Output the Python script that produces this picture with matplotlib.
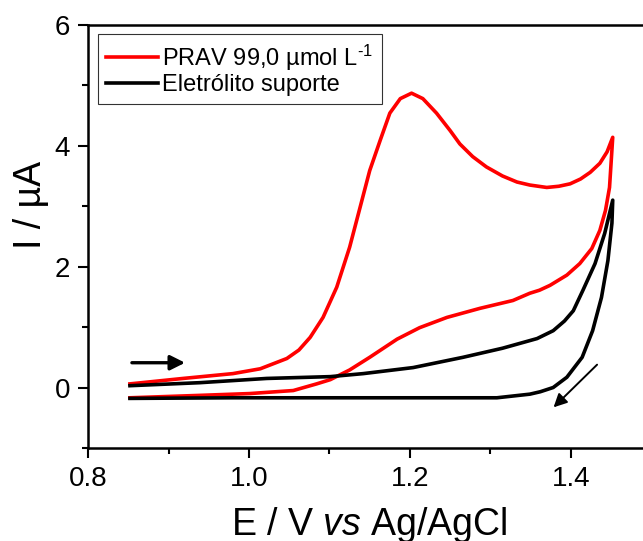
import matplotlib
matplotlib.use("Agg")
import matplotlib.pyplot as plt
from matplotlib.ticker import MultipleLocator

plt.rcParams['font.family'] = ['Liberation Sans', 'DejaVu Sans']
plt.rcParams['mathtext.fontset'] = 'custom'
plt.rcParams['mathtext.rm'] = 'Liberation Sans'
plt.rcParams['mathtext.it'] = 'Liberation Sans:italic'

# voltammogram of PRAV: anodic sweep then return sweep
prav_fwd_E = [0.852, 0.918, 0.980, 1.014, 1.047, 1.062, 1.076, 1.092, 1.109, 1.125,
              1.138, 1.150, 1.163, 1.175, 1.188, 1.202, 1.216, 1.233, 1.250, 1.262,
              1.278, 1.295, 1.315, 1.333, 1.349, 1.370, 1.385, 1.399, 1.412, 1.424,
              1.436, 1.445, 1.452]
prav_fwd_I = [0.06, 0.15, 0.23, 0.31, 0.48, 0.62, 0.83, 1.16, 1.66, 2.32,
              2.98, 3.59, 4.09, 4.54, 4.78, 4.87, 4.78, 4.54, 4.25, 4.03,
              3.82, 3.65, 3.50, 3.40, 3.35, 3.31, 3.33, 3.37, 3.45, 3.56,
              3.71, 3.90, 4.14]
prav_rev_E = [1.452, 1.448, 1.443, 1.436, 1.426, 1.411, 1.395, 1.374, 1.361, 1.349,
              1.328, 1.287, 1.246, 1.212, 1.184, 1.150, 1.125, 1.113, 1.101, 1.084,
              1.055, 1.001, 0.939, 0.852]
prav_rev_I = [4.14, 3.31, 2.93, 2.60, 2.30, 2.05, 1.86, 1.69, 1.61, 1.56,
              1.44, 1.31, 1.16, 0.99, 0.80, 0.50, 0.29, 0.21, 0.13, 0.06,
              -0.05, -0.10, -0.13, -0.17]

# supporting electrolyte blank
blank_fwd_E = [0.852, 0.939, 1.022, 1.101, 1.142, 1.204, 1.266, 1.315, 1.358, 1.378,
               1.392, 1.403, 1.415, 1.430, 1.442, 1.452]
blank_fwd_I = [0.03, 0.08, 0.15, 0.18, 0.23, 0.33, 0.50, 0.65, 0.81, 0.94,
               1.10, 1.27, 1.61, 2.05, 2.55, 3.10]
blank_rev_E = [1.452, 1.451, 1.446, 1.438, 1.427, 1.414, 1.395, 1.378, 1.362, 1.349,
               1.308, 1.225, 1.101, 0.980, 0.852]
blank_rev_I = [3.10, 2.72, 2.10, 1.49, 0.94, 0.50, 0.17, 0.00, -0.07, -0.11,
               -0.17, -0.17, -0.17, -0.17, -0.18]

fig = plt.figure(figsize=(6.43, 5.41), dpi=100)
ax = fig.add_axes([0.137, 0.172, 0.876, 0.782])

ax.plot(prav_fwd_E + prav_rev_E, prav_fwd_I + prav_rev_I, color='#ff0000', lw=2.6,
        label=r'PRAV 99,0 µmol L$^{\text{-1}}$')
ax.plot(blank_fwd_E + blank_rev_E, blank_fwd_I + blank_rev_I, color='black', lw=2.6,
        label='Eletrólito suporte')

# scan direction arrows
ax.annotate('', xy=(0.924, 0.41), xytext=(0.851, 0.41),
            arrowprops=dict(arrowstyle='-|>', color='black', lw=2.4, mutation_scale=22))
ax.annotate('', xy=(1.376, -0.36), xytext=(1.435, 0.41),
            arrowprops=dict(arrowstyle='-|>', color='black', lw=1.4, mutation_scale=20))

ax.set_xlim(0.8, 1.5)
ax.set_ylim(-1, 6)
ax.xaxis.set_major_locator(MultipleLocator(0.2))
ax.xaxis.set_minor_locator(MultipleLocator(0.1))
ax.yaxis.set_major_locator(MultipleLocator(2))
ax.yaxis.set_minor_locator(MultipleLocator(1))
ax.xaxis.set_major_formatter(plt.FormatStrFormatter('%.1f'))
ax.tick_params(which='major', direction='out', length=7, width=1.5, labelsize=20, pad=6)
ax.tick_params(which='minor', direction='out', length=4.5, width=1.5)
for s in ax.spines.values():
    s.set_linewidth(1.8)

ax.set_xlabel(r'E / V $\mathit{vs}$ Ag/AgCl', fontsize=27, labelpad=9)
ax.set_ylabel('I / µA', fontsize=27)
ax.yaxis.set_label_coords(-0.07, 0.574)

leg = ax.legend(loc='upper left', fontsize=17, frameon=True, fancybox=False,
                handlelength=2.2, handletextpad=0.2, borderpad=0.35,
                labelspacing=0.05, borderaxespad=0.4, bbox_to_anchor=(0.0, 1.0))
leg.get_frame().set_edgecolor('black')
leg.get_frame().set_linewidth(0.8)

fig.savefig('out.png', dpi=100)
